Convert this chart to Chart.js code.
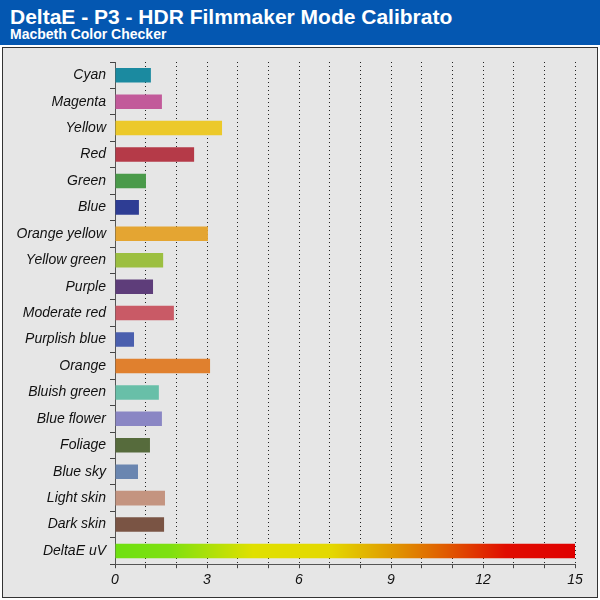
<!DOCTYPE html>
<html><head><meta charset="utf-8">
<script src="https://cdn.jsdelivr.net/npm/chart.js@4"></script>
<style>
body{margin:0;width:600px;height:600px;background:#fff;font-family:"Liberation Sans",Arial,sans-serif;overflow:hidden}
#hdr{position:absolute;left:0;top:0;width:600px;height:45px;background:#0457b1}
#t1{position:absolute;left:10px;top:5px;color:#fff;font-weight:bold;font-size:21px}
#t2{position:absolute;left:10px;top:26px;color:#fff;font-weight:bold;font-size:14px}
#frame{position:absolute;left:2px;top:47px;width:594px;height:549px;background:#e6e6e6;border:1px solid #333}
</style></head><body>
<div id="hdr"><div id="t1">DeltaE - P3 - HDR Filmmaker Mode Calibrato</div><div id="t2">Macbeth Color Checker</div></div>
<div id="frame"><canvas id="c" width="594" height="549"></canvas></div>
<script>
const categories=["Cyan","Magenta","Yellow","Red","Green","Blue","Orange yellow","Yellow green","Purple","Moderate red","Purplish blue","Orange","Bluish green","Blue flower","Foliage","Blue sky","Light skin","Dark skin","DeltaE uV"];
const values=[1.17,1.53,3.49,2.58,1.01,0.78,3.03,1.57,1.24,1.92,0.62,3.10,1.43,1.53,1.14,0.75,1.63,1.60,15];
const barColors=["#1b8aa0","#c25a9a","#ecc92a","#b53a48","#4a9a4a","#2e3d94","#e4a532","#9cbf40","#5e3d7a","#c95a66","#4a5fae","#e0802e","#68bfa8","#8a86c4","#566b3c","#6a86b0","#c49480","#7a5444",null];
const xLabelEvery=3;
new Chart(document.getElementById('c'),{
 type:'bar',
 data:{labels:categories,datasets:[{data:values,barPercentage:0.55,categoryPercentage:1,
  backgroundColor:(ctx)=>{
   const col=barColors[ctx.dataIndex];
   if(col) return col;
   const a=ctx.chart.chartArea; if(!a) return '#e00000';
   const g=ctx.chart.ctx.createLinearGradient(a.left,0,a.right,0);
   g.addColorStop(0,'#6ee010');g.addColorStop(0.12,'#7ee010');g.addColorStop(0.3,'#e0e000');
   g.addColorStop(0.47,'#e4d800');g.addColorStop(0.6,'#e09a00');g.addColorStop(0.72,'#e05a00');
   g.addColorStop(0.85,'#e00c00');g.addColorStop(1,'#e00000');return g;}}]},
 options:{indexAxis:'y',responsive:false,animation:false,
  layout:{padding:{top:14,right:22,bottom:4,left:0}},
  plugins:{legend:{display:false},tooltip:{enabled:false}},
  scales:{
   y:{afterFit:(s)=>{s.width=112;},
    grid:{offset:true,drawOnChartArea:false,tickLength:5,color:'#444'},
    border:{color:'#555'},
    ticks:{color:'#111',font:{family:'"Liberation Sans",Arial',size:14,style:'italic'},padding:4}},
   x:{min:0,max:15,
    grid:{color:'#222',lineWidth:1,tickLength:4,tickColor:'#444'},
    border:{color:'#555',dash:[1,3]},
    ticks:{stepSize:1,autoSkip:false,maxRotation:0,color:'#111',padding:4,
     font:{family:'"Liberation Sans",Arial',size:14,style:'italic'},
     callback:(v)=>v%xLabelEvery===0?String(v):''}}
  }}
});
</script>
</body></html>
